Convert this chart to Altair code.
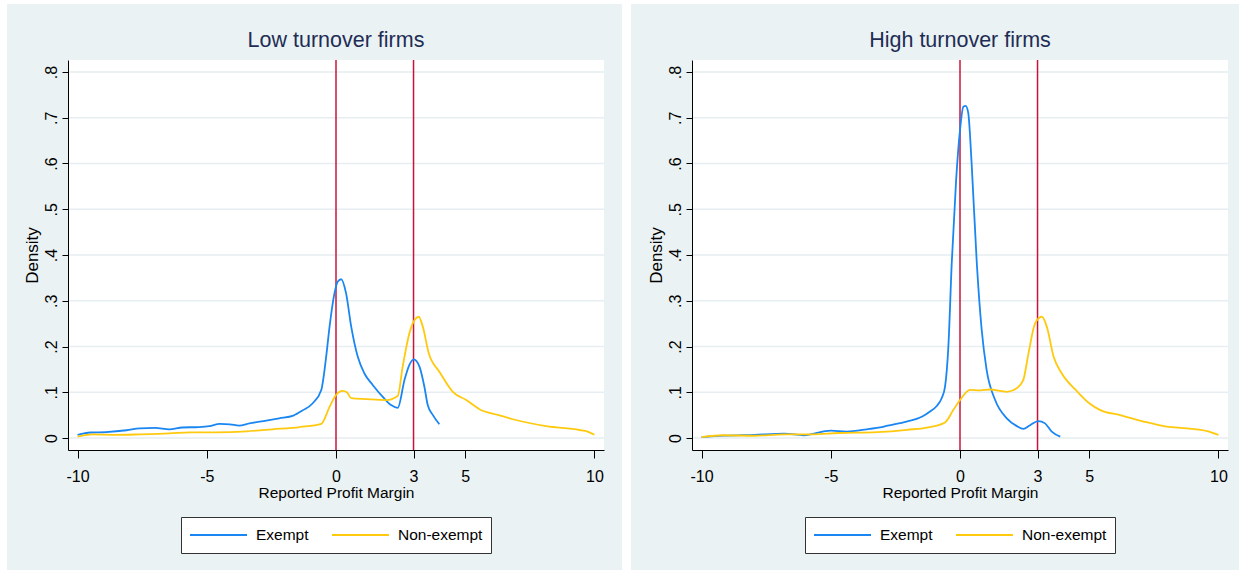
import altair as alt
import pandas as pd

# ---------------- data ----------------
panel_titles = ["Low turnover firms", "High turnover firms"]
series_names = ["Exempt", "Non-exempt"]
x_tick_values = [-10, -5, 0, 3, 5, 10]
y_tick_values = [0, 0.1, 0.2, 0.3, 0.4, 0.5, 0.6, 0.7, 0.8]
ref_lines = [0, 3]

low_exempt_x = [-10.0, -9.5, -8.9, -8.1, -7.6, -7.0, -6.45, -5.95, -5.3, -4.9, -4.5, -4.1, -3.75,
                -3.35, -2.7, -2.2, -1.65, -1.3, -0.9, -0.57, -0.38, -0.25, -0.06, 0.07, 0.2, 0.39,
                0.59, 0.84, 1.1, 1.42, 1.81, 2.13, 2.39, 2.65, 2.84, 3.01, 3.23, 3.42, 3.55, 3.75, 4.0]
low_exempt_y = [0.007, 0.012, 0.013, 0.017, 0.021, 0.022, 0.019, 0.023, 0.024, 0.026, 0.031, 0.030, 0.027,
                0.032, 0.038, 0.043, 0.049, 0.060, 0.076, 0.105, 0.178, 0.243, 0.316, 0.342, 0.347, 0.316,
                0.243, 0.178, 0.141, 0.116, 0.090, 0.072, 0.066, 0.127, 0.160, 0.172, 0.156, 0.112, 0.072, 0.050, 0.030]

low_nonex_x = [-10.0, -9.4, -8.5, -7.6, -6.45, -5.65, -4.65, -3.45, -2.45, -1.4, -0.57, -0.25, 0.0, 0.26,
               0.42, 0.59, 1.17, 1.94, 2.39, 2.58, 2.84, 3.04, 3.2, 3.36, 3.59, 4.0, 4.52, 5.04, 5.55,
               6.3, 6.84, 8.13, 9.42, 9.74, 10.0]
low_nonex_y = [0.003, 0.008, 0.007, 0.008, 0.010, 0.0125, 0.0125, 0.0146, 0.019, 0.024, 0.031, 0.068, 0.094, 0.103,
               0.100, 0.087, 0.085, 0.083, 0.092, 0.156, 0.229, 0.258, 0.265, 0.243, 0.185, 0.145, 0.101, 0.083, 0.063,
               0.050, 0.041, 0.026, 0.0175, 0.014, 0.007]

high_exempt_x = [-10.0, -9.15, -7.95, -6.8, -6.05, -5.0, -4.4, -3.5, -3.1, -2.8, -2.07, -1.46, -1.16, -0.9,
                 -0.71, -0.58, -0.45, -0.32, -0.15, 0.0, 0.13, 0.22, 0.32, 0.45, 0.65, 0.84, 1.03, 1.36,
                 1.81, 2.2, 2.45, 2.71, 3.03, 3.29, 3.55, 3.88]
high_exempt_y = [0.002, 0.005, 0.007, 0.0095, 0.006, 0.016, 0.014, 0.020, 0.023, 0.027, 0.036, 0.047, 0.058, 0.070,
                 0.087, 0.112, 0.200, 0.382, 0.564, 0.673, 0.724, 0.726, 0.710, 0.600, 0.382, 0.236, 0.149, 0.083,
                 0.043, 0.026, 0.020, 0.028, 0.037, 0.032, 0.014, 0.003]

high_nonex_x = [-10.0, -9.15, -7.95, -6.8, -5.75, -4.7, -3.2, -2.05, -1.17, -0.58, -0.26, 0.0, 0.39, 0.77,
                1.16, 1.81, 2.2, 2.45, 2.65, 2.91, 3.17, 3.36, 3.62, 3.94, 4.48, 5.0, 5.43, 6.2, 7.1,
                8.0, 8.78, 9.56, 10.0]
high_nonex_y = [0.002, 0.006, 0.005, 0.008, 0.008, 0.011, 0.013, 0.018, 0.024, 0.034, 0.061, 0.083, 0.105, 0.104,
                0.106, 0.101, 0.109, 0.127, 0.185, 0.251, 0.265, 0.243, 0.178, 0.141, 0.105, 0.076, 0.061, 0.050, 0.036,
                0.025, 0.021, 0.015, 0.007]

# ---------------- styling ----------------
BG = "#EAF2F3"
GRID = "#E6EEF1"
BLUE = "#1A86F2"
YELLOW = "#FFC90E"
RED = "#C8143A"
TITLE_COLOR = "#1F2D55"
SANS = "Liberation Sans, Arial, sans-serif"
W, H = 536, 390

xs = alt.Scale(domain=[-10.37, 10.37], nice=False, zero=False)
ys = alt.Scale(domain=[-0.0262, 0.8262], nice=False, zero=False)

x_axis = alt.Axis(
    values=x_tick_values, title="Reported Profit Margin", grid=False,
    labelExpr="datum.value + ''",
    tickSize=8, tickColor="black", domainColor="black", labelColor="black",
    labelFont=SANS, labelFontSize=16, labelPadding=10, labelFlush=False,
    titleFont=SANS, titleFontSize=15.5, titleFontWeight="normal", titleColor="black",
    titlePadding=1, zindex=1)
y_axis = alt.Axis(
    values=y_tick_values, title="Density", grid=False,
    labelExpr="datum.value == 0 ? '0' : substring(format(datum.value, '.1f'), 1)",
    labelAngle=270, labelAlign="center", labelBaseline="alphabetic",
    tickSize=6, tickColor="black", domainColor="black", labelColor="black",
    labelFont=SANS, labelFontSize=16, labelPadding=6, labelFlush=False,
    titleFont=SANS, titleFontSize=17, titleFontWeight="normal", titleColor="black",
    titlePadding=2, zindex=1)


def panel(title, ex_x, ex_y, ne_x, ne_y, right_extent):
    df = pd.concat([
        pd.DataFrame({"series": series_names[0], "x": ex_x, "y": ex_y}),
        pd.DataFrame({"series": series_names[1], "x": ne_x, "y": ne_y}),
    ])
    one = pd.DataFrame({"t": [title]})

    bg = alt.Chart(one).mark_rect(color=BG).encode(
        x=alt.value(-61), x2=alt.value(right_extent), y=alt.value(-56), y2=alt.value(510))
    plot_bg = alt.Chart(one).mark_rect(color="white").encode(
        x=alt.value(0), x2=alt.value(W), y=alt.value(0), y2=alt.value(H))
    grid = alt.Chart(pd.DataFrame({"y": y_tick_values})).mark_rule(
        color=GRID, strokeWidth=1.6).encode(y=alt.Y("y:Q", scale=ys, axis=y_axis))
    rules = alt.Chart(pd.DataFrame({"x": ref_lines})).mark_rule(
        color=RED, strokeWidth=1.5).encode(x=alt.X("x:Q", scale=xs, axis=x_axis))
    lines = alt.Chart(df).mark_line(strokeWidth=1.8, interpolate="monotone").encode(
        x=alt.X("x:Q", scale=xs, axis=x_axis),
        y=alt.Y("y:Q", scale=ys, axis=y_axis),
        color=alt.Color("series:N", title=None,
                        scale=alt.Scale(domain=series_names, range=[BLUE, YELLOW]),
                        legend=alt.Legend(orient="none", legendX=113, legendY=457,
                                          direction="horizontal", fillColor="white",
                                          strokeColor="#333333", padding=8, clipHeight=20,
                                          symbolType="stroke", symbolSize=3249,
                                          symbolStrokeWidth=2, labelFont=SANS,
                                          labelFontSize=15.5, labelOffset=8,
                                          columnPadding=22, labelColor="black")),
    )
    ttl = alt.Chart(one).mark_text(font=SANS, fontSize=21.5, color=TITLE_COLOR,
                                    align="center", baseline="middle").encode(
        text="t:N", x=alt.value(W / 2), y=alt.value(-19))
    return alt.layer(bg, plot_bg, grid, rules, lines, ttl).properties(width=W, height=H)


left = panel(panel_titles[0], low_exempt_x, low_exempt_y, low_nonex_x, low_nonex_y, 554)
right = panel(panel_titles[1], high_exempt_x, high_exempt_y, high_nonex_x, high_nonex_y, 547)

chart = alt.hconcat(left, right, spacing=9).resolve_legend(color="independent").properties(
    padding={"left": 7, "top": 4, "right": 0, "bottom": 0},
    background="white",
).configure_view(stroke=None)

chart.save("out.html", embed_options={"renderer": "svg", "actions": False})
